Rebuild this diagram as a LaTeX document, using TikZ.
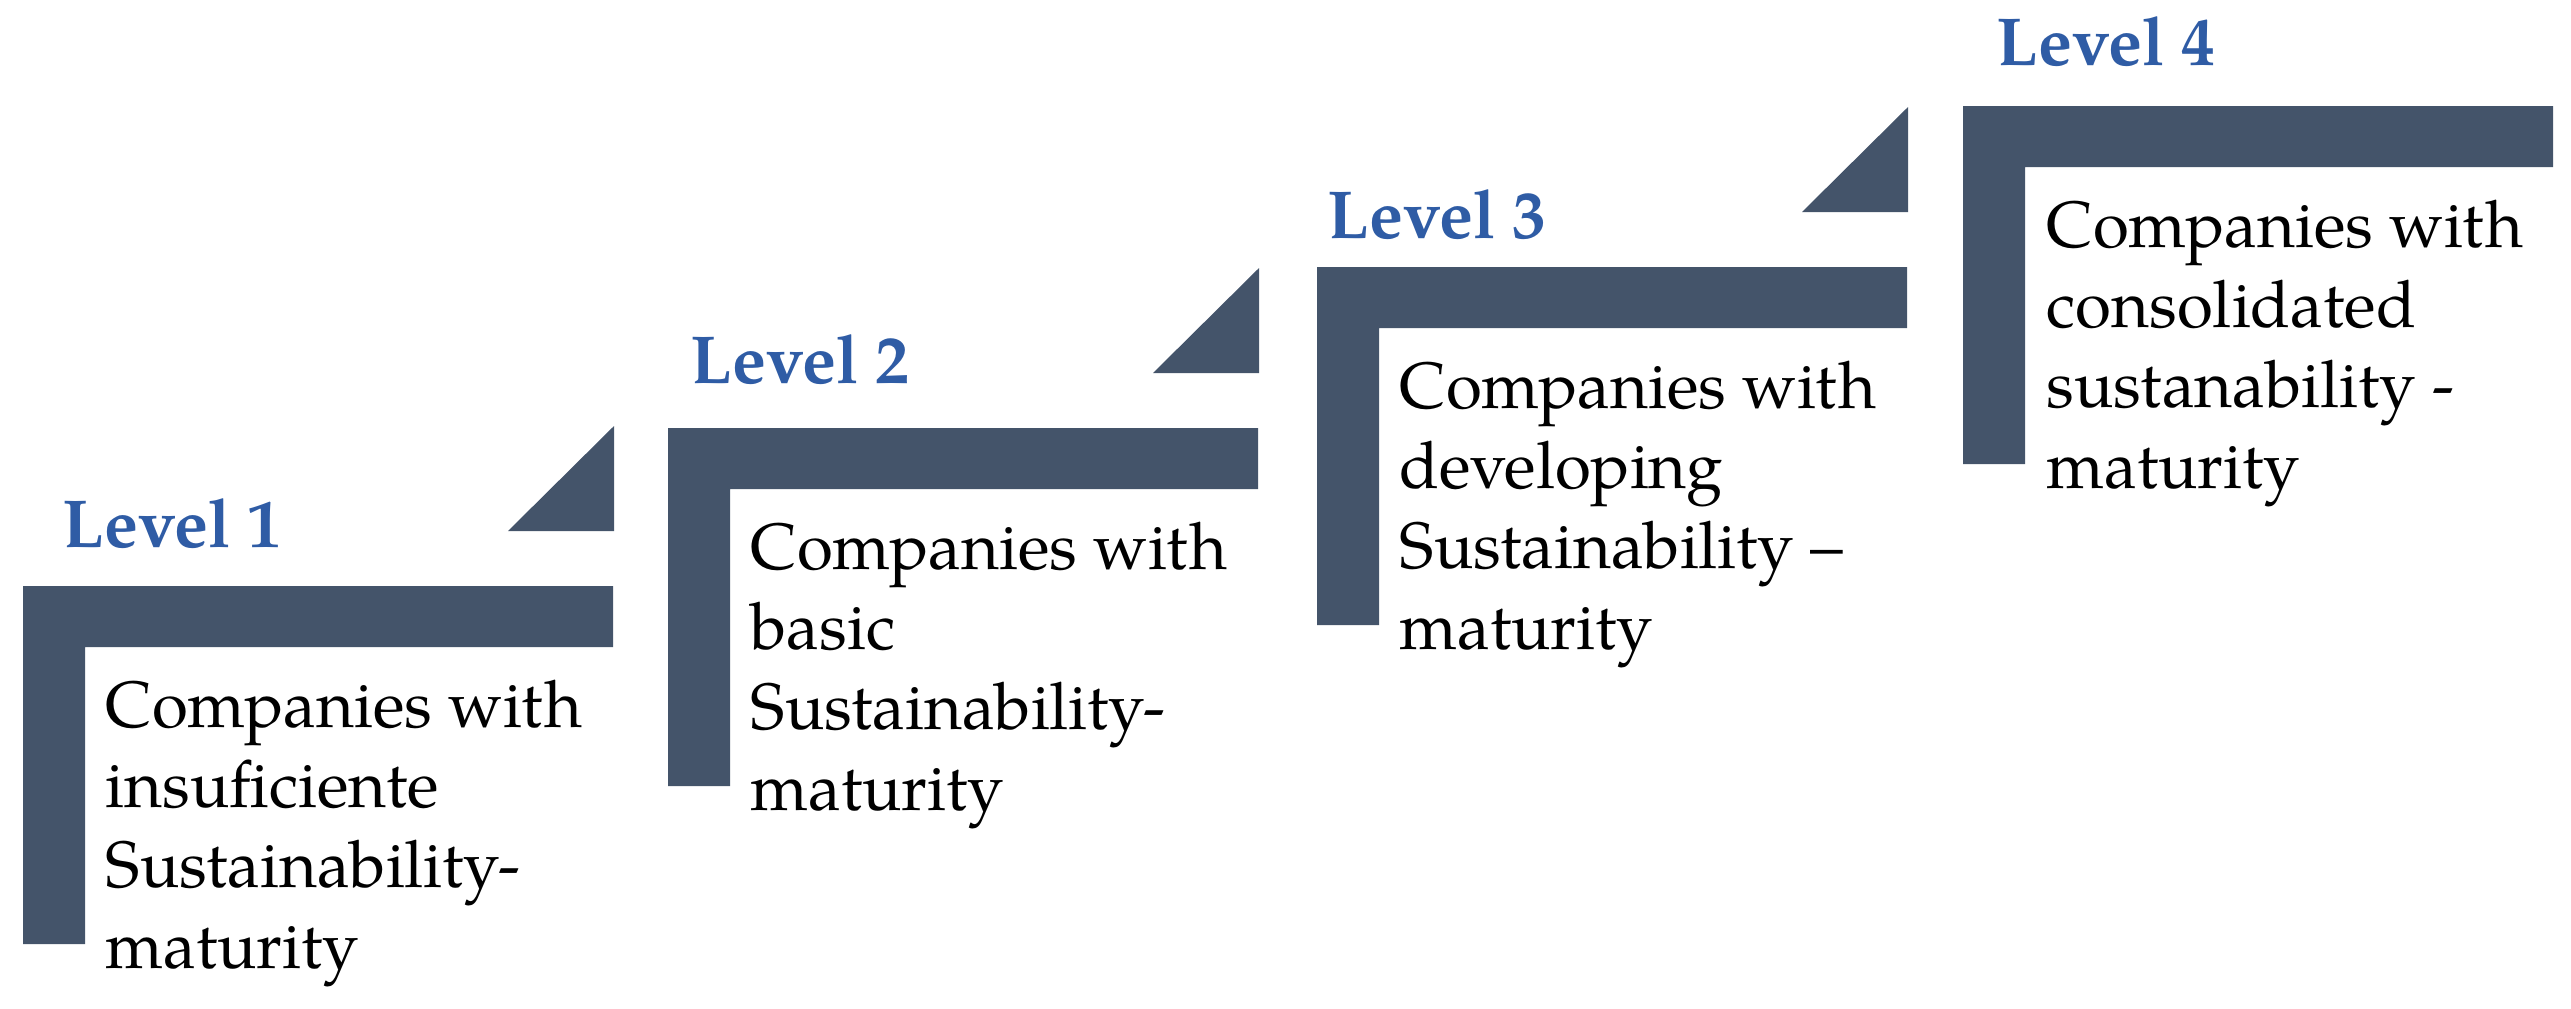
\documentclass[tikz,border=0pt]{standalone}
\usepackage{fontspec}
\setmainfont{TeX Gyre Pagella}
\usetikzlibrary{calc}
\definecolor{stepgray}{HTML}{44546A}
\definecolor{lvlblue}{HTML}{2F5CA5}
\tikzset{
  stepshape/.style={fill=stepgray, draw=none},
  lvllabel/.style={font=\bfseries\fontsize{19.3}{23}\selectfont, text=lvlblue, anchor=base west, inner sep=0pt},
  bodytext/.style={font=\fontsize{18.6}{22.8}\selectfont, text=black, anchor=base west, inner sep=0pt, align=left},
}
\newcommand{\stepL}[2]{%
  \fill[stepshape] (#1,#2) -- ++(590,0) -- ++(0,61) -- ++(-528,0) -- ++(0,297) -- ++(-62,0) -- cycle;
}
\newcommand{\stepTri}[2]{%
  \fill[stepshape] ($(#1,#2)+(485,-55)$) -- ++(106,0) -- ++(0,-105) -- cycle;
}
\begin{document}
\begin{tikzpicture}[x=0.01cm,y=-0.01cm]
\useasboundingbox (0,0) rectangle (2571,1008);
\stepL{23}{586}   \stepTri{23}{586}
\stepL{668}{428}  \stepTri{668}{428}
\stepL{1317}{267} \stepTri{1317}{267}
\stepL{1963}{106}
\node[lvllabel] (l1) at (62,547) {Level 1};
\node[lvllabel] (l2) at (690,383) {Level 2};
\node[lvllabel] (l3) at (1327,238) {Level 3};
\node[lvllabel] (l4) at (1996,65) {Level 4};
% anchor = baseline of the last line (first baseline + 3 line skips)
\node[bodytext] (t1) at (105,968) {Companies with\\insuficiente\\Sustainability-\\maturity};
\node[bodytext] (t2) at (750,810) {Companies with\\basic\\Sustainability-\\maturity};
\node[bodytext] (t3) at (1399,649) {Companies with\\developing\\Sustainability –\\maturity};
\node[bodytext] (t4) at (2046,488) {Companies with\\consolidated\\sustanability -\\maturity};
\end{tikzpicture}
\end{document}
